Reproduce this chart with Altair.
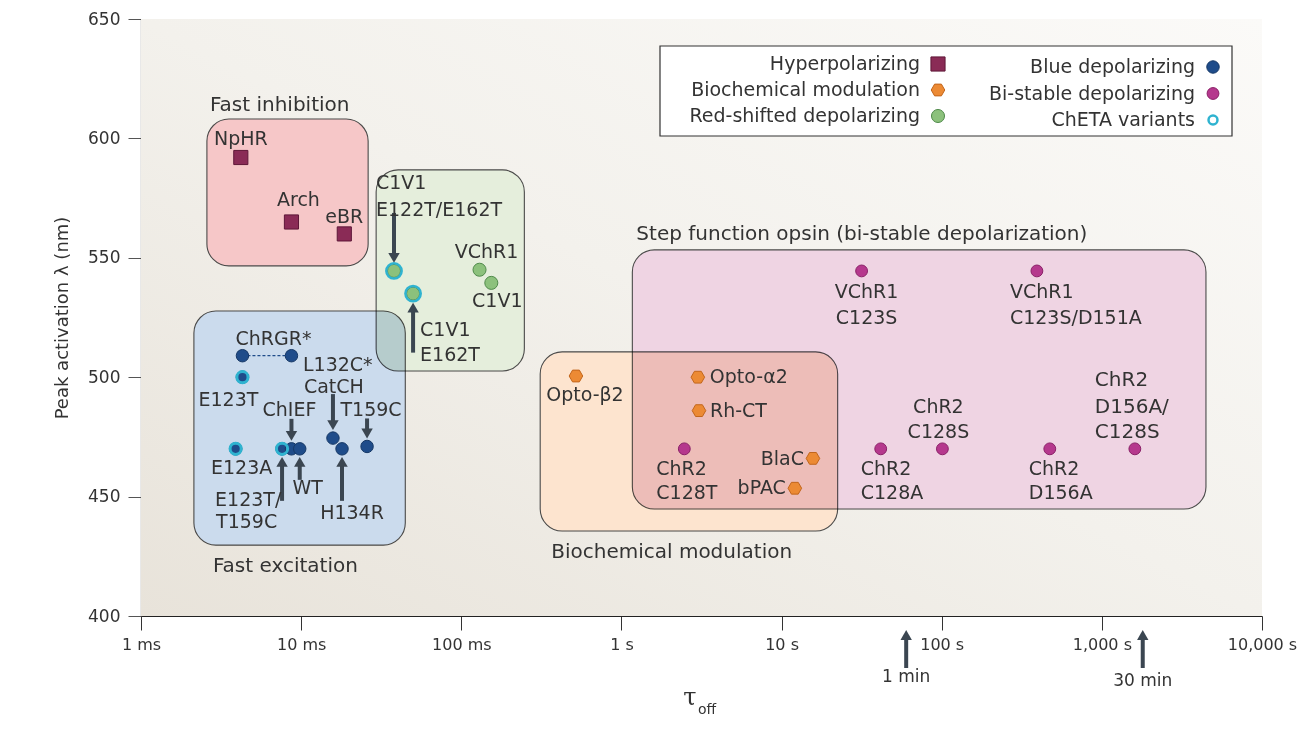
import math
import altair as alt
import pandas as pd

# ---------------- data ----------------
names = ["NpHR", "Arch", "eBR",
         "C1V1 E122T/E162T", "C1V1 E162T", "VChR1", "C1V1",
         "ChRGR* (a)", "ChRGR* (b)", "E123T", "E123A", "E123T/T159C", "ChIEF", "WT",
         "L132C* CatCH", "H134R", "T159C",
         "Opto-β2", "Opto-α2", "Rh-CT", "BlaC", "bPAC",
         "ChR2 C128T", "VChR1 C123S", "VChR1 C123S/D151A", "ChR2 C128A", "ChR2 C128S",
         "ChR2 D156A", "ChR2 D156A/C128S"]
tau_off_s = [0.0042, 0.0087, 0.0186,
             0.038, 0.050, 0.130, 0.154,
             0.0043, 0.0087, 0.0043, 0.0039, 0.0076, 0.0087, 0.0098,
             0.0158, 0.0180, 0.0258,
             0.52, 3.0, 3.05, 15.7, 12.1,
             2.47, 31.6, 393, 41.6, 101, 473, 1607]
peak_nm = [592, 565, 560,
           544.5, 535, 545, 539.5,
           509, 509, 500, 470, 470, 470, 470,
           474.5, 470, 471,
           500.5, 500, 486, 466, 453.5,
           470, 544.5, 544.5, 470, 470, 470, 470]
category = (["Hyperpolarizing"] * 3 + ["Red-shifted depolarizing"] * 4 +
            ["Blue depolarizing"] * 10 + ["Biochemical modulation"] * 5 +
            ["Bi-stable depolarizing"] * 7)
cheta_variants = ["C1V1 E122T/E162T", "C1V1 E162T", "E123T", "E123A", "E123T/T159C"]
linked_pair = ["ChRGR* (a)", "ChRGR* (b)"]

categories = ["Hyperpolarizing", "Biochemical modulation", "Red-shifted depolarizing",
              "Blue depolarizing", "Bi-stable depolarizing"]
legend_labels = ["Hyperpolarizing", "Biochemical modulation", "Red-shifted depolarizing",
                 "Blue depolarizing", "Bi-stable depolarizing", "ChETA variants"]

# group boxes (tau_off in s, wavelength in nm)
group_names = ["Fast inhibition", "Red-shifted", "Fast excitation",
               "Biochemical modulation", "Step function opsin"]
group_x1 = [0.00258, 0.0294, 0.00214, 0.311, 1.17]
group_x2 = [0.0262, 0.2476, 0.0447, 22.4, 4467]
group_y1 = [546.6, 502.6, 429.7, 435.6, 444.8]
group_y2 = [608.1, 586.8, 527.7, 510.6, 553.3]

tick_values = [0.001, 0.01, 0.1, 1, 10, 100, 1000, 10000]
tick_labels = ["1 ms", "10 ms", "100 ms", "1 s", "10 s", "100 s", "1,000 s", "10,000 s"]
y_ticks = [400, 450, 500, 550, 600, 650]

time_marks = ["1 min", "30 min"]
time_marks_s = [60, 1800]

# ---------------- annotations ----------------
# (anchor point, text, dx px, dy px, align, font size)
labels = [
    ("NpHR", "NpHR", 0, -19, "center", 19),
    ("Arch", "Arch", 7, -22, "center", 19),
    ("eBR", "eBR", 0, -17, "center", 19),
    ("C1V1 E122T/E162T", "C1V1", -18, -88, "left", 19),
    ("C1V1 E122T/E162T", "E122T/E162T", -18, -61, "left", 19),
    ("C1V1 E162T", "C1V1", 7, 36, "left", 19),
    ("C1V1 E162T", "E162T", 7, 61, "left", 19),
    ("VChR1", "VChR1", 7, -18, "center", 19),
    ("C1V1", "C1V1", 6, 18, "center", 19),
    ("ChRGR* (a)", "ChRGR*", 31, -17, "center", 19),
    ("E123T", "E123T", -14, 23, "center", 19),
    ("E123A", "E123A", 6, 19, "center", 19),
    ("E123T/T159C", "E123T/", -67, 51, "left", 19),
    ("E123T/T159C", "T159C", -66, 73, "left", 19),
    ("ChIEF", "ChIEF", -2, -39, "center", 19),
    ("WT", "WT", 8, 39, "center", 19),
    ("L132C* CatCH", "L132C*", -30, -73, "left", 19),
    ("L132C* CatCH", "CatCH", -29, -51, "left", 19),
    ("H134R", "H134R", 10, 64, "center", 19),
    ("T159C", "T159C", 4, -36, "center", 19),
    ("Opto-β2", "Opto-β2", 9, 19, "center", 19),
    ("Opto-α2", "Opto-α2", 12, 0, "left", 19),
    ("Rh-CT", "Rh-CT", 11, 0, "left", 19),
    ("ChR2 C128T", "ChR2", -28, 20, "left", 19),
    ("ChR2 C128T", "C128T", -28, 44, "left", 19),
    ("BlaC", "BlaC", -9, 1, "right", 19),
    ("bPAC", "bPAC", -9, 0, "right", 19),
    ("VChR1 C123S", "VChR1", 5, 21, "center", 19),
    ("VChR1 C123S", "C123S", 5, 47, "center", 19),
    ("VChR1 C123S/D151A", "VChR1", -27, 21, "left", 19),
    ("VChR1 C123S/D151A", "C123S/D151A", -27, 47, "left", 19),
    ("ChR2 C128A", "ChR2", -20, 20, "left", 19),
    ("ChR2 C128A", "C128A", -20, 44, "left", 19),
    ("ChR2 C128S", "ChR2", -4, -42, "center", 19),
    ("ChR2 C128S", "C128S", -4, -17, "center", 19),
    ("ChR2 D156A", "ChR2", -21, 20, "left", 19),
    ("ChR2 D156A", "D156A", -21, 44, "left", 19),
    ("ChR2 D156A/C128S", "ChR2", -40, -69, "left", 20),
    ("ChR2 D156A/C128S", "D156A/", -40, -42, "left", 20),
    ("ChR2 D156A/C128S", "C128S", -40, -17, "left", 20),
]
# (anchor point, direction, gap px, length px)
arrows = [
    ("C1V1 E122T/E162T", "down", 8, 50),
    ("C1V1 E162T", "up", 9, 50),
    ("ChIEF", "down", 8, 22),
    ("L132C* CatCH", "down", 8, 36),
    ("T159C", "down", 8, 20),
    ("E123T/T159C", "up", 8, 44),
    ("WT", "up", 8, 23),
    ("H134R", "up", 8, 44),
]
# (group index, title, anchor edge, dx px, dy px)
group_titles = [
    (0, "Fast inhibition", "top", 3, -14),
    (2, "Fast excitation", "bottom", 19, 21),
    (3, "Biochemical modulation", "bottom", 11, 21),
    (4, "Step function opsin (bi-stable depolarization)", "top", 4, -16),
]

# ---------------- geometry helpers ----------------
W, H = 1121, 597
XD = [0.001, 10000]
YD = [400, 650]
NM_PER_PX = (YD[1] - YD[0]) / H
PX_PER_DEC = W / math.log10(XD[1] / XD[0])


def sx(x, dx):
    return x * 10 ** (dx / PX_PER_DEC)


def sy(y, dy):
    return y - dy * NM_PER_PX


FONT = "DejaVu Sans"
TXT = "#333333"
ARROW = "#3b4651"
CYAN = "#2fb3d0"

xsc = alt.Scale(type="log", domain=XD, nice=False)
ysc = alt.Scale(domain=YD, nice=False, zero=False)

xaxis = alt.Axis(values=tick_values,
                 labelExpr="[" + ",".join("'%s'" % t for t in tick_labels) + "][round(log(datum.value)/LN10)+3]",
                 tickSize=14, tickColor="#333", domainColor="#222", domainWidth=1.2,
                 labelFont=FONT, labelFontSize=16, labelColor="#333", labelPadding=6,
                 grid=False, title=None, labelFlush=False)
yaxis = alt.Axis(values=y_ticks, tickSize=13, tickColor="#555", domainColor="#222", domainWidth=1.2,
                 labelFont=FONT, labelFontSize=17, labelColor="#333", labelPadding=8, grid=False,
                 title="Peak activation λ (nm)", titleFont=FONT, titleFontSize=18,
                 titleFontWeight="normal", titleColor="#333", titlePadding=16)


def X(f):
    return alt.X(f, type="quantitative", scale=xsc, axis=xaxis)


def Y(f):
    return alt.Y(f, type="quantitative", scale=ysc, axis=yaxis)


pts = pd.DataFrame({"name": names, "tau": tau_off_s, "nm": peak_nm, "category": category})
pos = {n: (t, v) for n, t, v in zip(names, tau_off_s, peak_nm)}

cat_colors = ["#8a2b56", "#ec8a34", "#8cc17c", "#1f4c8a", "#b5388d"]
cat_strokes = ["#5e1738", "#c2661c", "#4f8a4a", "#163866", "#8a2067"]
hexagon = "M-1,0L-0.5,-0.866L0.5,-0.866L1,0L0.5,0.866L-0.5,0.866Z"
cat_shapes = ["square", hexagon, "circle", "circle", "circle"]
cat_sizes = [200, 140, 150, 80, 140]

color_enc = alt.Color("category:N", scale=alt.Scale(domain=categories, range=cat_colors), legend=None)
stroke_enc = alt.Stroke("category:N", scale=alt.Scale(domain=categories, range=cat_strokes), legend=None)
shape_enc = alt.Shape("category:N", scale=alt.Scale(domain=categories, range=cat_shapes), legend=None)
size_enc = alt.Size("category:N", scale=alt.Scale(domain=categories, range=cat_sizes), legend=None)

# ---------------- layers ----------------
bg = alt.Chart(pd.DataFrame({"a": [0]})).mark_rect(
    fill=alt.LinearGradient(gradient="linear",
                            stops=[alt.GradientStop(color="#e8e3da", offset=0),
                                   alt.GradientStop(color="#f3f1ec", offset=0.5),
                                   alt.GradientStop(color="#fbfaf8", offset=1)],
                            x1=0, y1=1, x2=1, y2=0)
).encode(x=alt.value(0), x2=alt.value(W), y=alt.value(0), y2=alt.value(H))

boxes = pd.DataFrame({"group": group_names, "x1": group_x1, "x2": group_x2,
                      "y1": group_y1, "y2": group_y2})
box_colors = ["#f6c7c8", "#e5eedc", "#cbdbed", "#fde4cf", "#efd4e3"]
box_base = alt.Chart(boxes).mark_rect(cornerRadius=22, fill="white").encode(
    x=X("x1"), x2="x2:Q", y=Y("y1"), y2="y2:Q")
box_fill = alt.Chart(boxes).mark_rect(cornerRadius=22, stroke="#4d4d4d", strokeWidth=1.1,
                                      blend="multiply").encode(
    x=X("x1"), x2="x2:Q", y=Y("y1"), y2="y2:Q",
    fill=alt.Fill("group:N", scale=alt.Scale(domain=group_names, range=box_colors), legend=None))

gt_rows = []
for gi, text, edge, dx, dy in group_titles:
    yb = group_y2[gi] if edge == "top" else group_y1[gi]
    gt_rows.append({"x": sx(group_x1[gi], dx), "y": sy(yb, dy), "text": text})
gtitles = alt.Chart(pd.DataFrame(gt_rows)).mark_text(
    align="left", baseline="middle", font=FONT, fontSize=20, color=TXT).encode(
    x=X("x"), y=Y("y"), text="text:N")

link = alt.Chart(pts[pts["name"].isin(linked_pair)]).mark_line(
    color="#1f4c8a", strokeDash=[3, 2], strokeWidth=1.2).encode(x=X("tau"), y=Y("nm"))

# arrows
shaft_rows, head_rows = [], []
for n, d, gap, length in arrows:
    x, y = pos[n]
    if d == "down":
        tip = sy(y, -gap)
        shaft_rows.append({"x": x, "y": sy(tip, -length), "y2": sy(tip, -7)})
        head_rows.append({"x": x, "y": sy(tip, -5), "shape": "triangle-down"})
    else:
        tip = sy(y, gap)
        shaft_rows.append({"x": x, "y": sy(tip, length), "y2": sy(tip, 7)})
        head_rows.append({"x": x, "y": sy(tip, 5), "shape": "triangle-up"})
for t in time_marks_s:
    tip = sy(YD[0], 14)
    shaft_rows.append({"x": t, "y": sy(tip, 38), "y2": sy(tip, 7)})
    head_rows.append({"x": t, "y": sy(tip, 5), "shape": "triangle-up"})

shafts = alt.Chart(pd.DataFrame(shaft_rows)).mark_rule(color=ARROW, strokeWidth=4).encode(
    x=X("x"), y=Y("y"), y2="y2:Q")
heads = alt.Chart(pd.DataFrame(head_rows)).mark_point(filled=True, color=ARROW, size=130, opacity=1).encode(
    x=X("x"), y=Y("y"), shape=alt.Shape("shape:N", scale=None))

points = alt.Chart(pts).mark_point(filled=True, opacity=1, strokeWidth=1).encode(
    x=X("tau"), y=Y("nm"),
    color=color_enc, stroke=stroke_enc, shape=shape_enc, size=size_enc)

# ChETA variants: cyan rims drawn over the dots
halo_df = pts[pts["name"].isin(cheta_variants)].copy()
ring_blue = alt.Chart(halo_df[halo_df["category"] == "Blue depolarizing"]).mark_circle(
    filled=False, stroke=CYAN, strokeWidth=3, size=125, opacity=1, fillOpacity=0).encode(
    x=X("tau"), y=Y("nm"))
ring_green = alt.Chart(halo_df[halo_df["category"] == "Red-shifted depolarizing"]).mark_circle(
    filled=False, stroke=CYAN, strokeWidth=2.5, size=235, opacity=1, fillOpacity=0).encode(
    x=X("tau"), y=Y("nm"))

lab_rows = []
for n, text, dx, dy, align, fs in labels:
    x, y = pos[n]
    lab_rows.append({"x": sx(x, dx), "y": sy(y, dy), "text": text, "align": align, "fs": fs})
lab_df = pd.DataFrame(lab_rows)
label_layers = []
for al in ["left", "center", "right"]:
    label_layers.append(alt.Chart(lab_df[lab_df["align"] == al]).mark_text(
        align=al, baseline="middle", font=FONT, color=TXT).encode(
        x=X("x"), y=Y("y"), text="text:N", size=alt.Size("fs:Q", scale=None)))

# time marks text below the axis
tm_df = pd.DataFrame({"x": time_marks_s, "text": time_marks,
                      "y": [sy(YD[0], 61), sy(YD[0], 65)]})
tm_text = alt.Chart(tm_df).mark_text(align="center", baseline="middle", font=FONT, fontSize=17,
                                     color=TXT).encode(x=X("x"), y=Y("y"), text="text:N")

# x-axis title tau_off
tau = alt.Chart(pd.DataFrame({"t": ["τ"]})).mark_text(
    align="center", baseline="middle", font="DejaVu Serif", fontSize=24, color=TXT).encode(
    x=alt.value(549), y=alt.value(679), text="t:N")
off = alt.Chart(pd.DataFrame({"t": ["off"]})).mark_text(
    align="left", baseline="middle", font=FONT, fontSize=14, color=TXT).encode(
    x=alt.value(557), y=alt.value(691), text="t:N")

# legend drawn inside the plot area (top right), placed via the same scales
leg_rows = []
for i, lab in enumerate(legend_labels):
    col, row = divmod(i, 3)
    if col == 0:
        px, tx, py = 797, 779, 45 + 26 * row
    else:
        px, tx, py = 1072, 1054, 48 + 26.5 * row
    leg_rows.append({"label": lab, "category": lab,
                     "sx": sx(XD[0], px), "tx": sx(XD[0], tx), "y": sy(YD[1], py)})
leg_df = pd.DataFrame(leg_rows)
leg_box = alt.Chart(pd.DataFrame({"a": [0]})).mark_rect(
    fill="white", stroke="#333", strokeWidth=1.2).encode(
    x=alt.value(519), x2=alt.value(1091), y=alt.value(27), y2=alt.value(117))
leg_text = alt.Chart(leg_df).mark_text(align="right", baseline="middle", font=FONT, fontSize=19,
                                       color=TXT).encode(x=X("tx"), y=Y("y"), text="label:N")
leg_sym = alt.Chart(leg_df[leg_df["category"].isin(categories)]).mark_point(
    filled=True, opacity=1, strokeWidth=1).encode(
    x=X("sx"), y=Y("y"),
    color=color_enc, stroke=stroke_enc, shape=shape_enc, size=size_enc)
leg_ring = alt.Chart(leg_df[~leg_df["category"].isin(categories)]).mark_circle(
    filled=False, stroke=CYAN, strokeWidth=2.5, size=80, opacity=1, fillOpacity=0).encode(
    x=X("sx"), y=Y("y"))

chart = alt.layer(
    bg, box_base, box_fill, gtitles, link, shafts, heads, points, ring_blue, ring_green,
    *label_layers, tm_text, tau, off, leg_box, leg_text, leg_sym, leg_ring
).properties(
    width=W, height=H,
    autosize=alt.AutoSizeParams(type="none"),
    padding={"left": 133, "top": 11, "right": 40, "bottom": 110},
).configure_view(strokeOpacity=0)

chart.save("out.html", embed_options={"renderer": "svg", "actions": False})
